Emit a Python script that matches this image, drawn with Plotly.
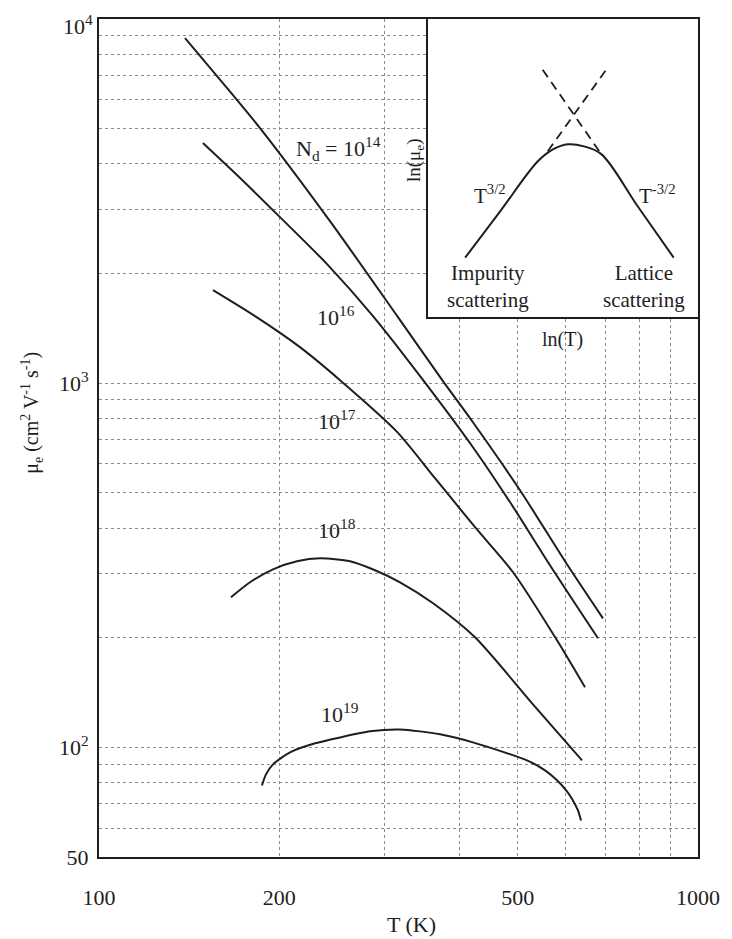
import math
import plotly.graph_objects as go

# ---------------- data ----------------
T_14 = [139.2, 160.5, 185.7, 243.0, 315.6, 375.2, 421.0, 504.5, 604.3, 694.0]
mu_14 = [8867, 6713, 5018, 2786, 1518, 1013, 781, 508.2, 318.2, 226.1]

T_16 = [149.1, 172.0, 200.5, 240.3, 286.7, 343.6, 424.4, 489.3, 566.1, 680.8]
mu_16 = [4563, 3658, 2858, 2123, 1528, 1045, 654.5, 462.2, 316.2, 199.3]

T_17 = [155.0, 182.2, 216.5, 252.6, 314.5, 363.9, 424.4, 491.2, 581.6, 647.7]
mu_17 = [1801, 1528, 1256, 1019, 735.0, 548.3, 402.2, 302.6, 196.8, 146.2]

T_18 = [166.1, 178.7, 195.2, 214.1, 233.8, 262.5, 288.9, 318.1, 361.2, 424.4, 530.3, 640.3]
mu_18 = [258.3, 284.0, 308.3, 324.3, 330.5, 324.3, 306.4, 284.0, 248.7, 200.5, 131.3, 92.1]

T_19 = [187.1, 190.0, 195.2, 208.4, 229.5, 252.6, 283.4, 318.1, 371.0, 421.0, 518.2,
        555.4, 581.6, 604.3, 618.3, 630.4, 637.8]
mu_19 = [78.6, 84.3, 89.8, 96.9, 102.6, 106.5, 110.7, 112.0, 108.6, 103.2, 92.1,
         86.5, 81.2, 75.7, 71.5, 67.1, 63.0]

curve_labels = ["N<sub>d</sub> = 10<sup>14</sup>", "10<sup>16</sup>", "10<sup>17</sup>",
                "10<sup>18</sup>", "10<sup>19</sup>"]
label_T = [250.8, 248.7, 249.6, 249.6, 252.5]
label_mu = [4422, 1528, 791.5, 397.1, 124.0]

x_tickvals = [100, 200, 300, 400, 500, 600, 700, 800, 900, 1000]
x_ticktext = ["100", "200", "", "", "500", "", "", "", "", "1000"]
y_tickvals = [50, 60, 70, 80, 90, 100, 200, 300, 400, 500, 600, 700, 800, 900,
              1000, 2000, 3000, 4000, 5000, 6000, 7000, 8000, 9000, 10000]
# the top label (10^4) is placed as a note so it is not clipped at the page edge
y_ticktext = ["50", "", "", "", "", "10<sup>2</sup>", "", "", "", "", "", "", "", "",
              "10<sup>3</sup>", "", "", "", "", "", "", "", "", ""]
y_top_label = "10<sup>4</sup>"

# inset schematic (arbitrary ln units)
ins_u = [1.38, 2.69, 4.07, 4.63, 5.19, 5.78, 6.42, 7.76, 9.10]
ins_v = [2.00, 3.57, 5.23, 5.63, 5.80, 5.73, 5.47, 3.73, 2.00]
imp_u = [4.44, 6.60]
imp_v = [5.57, 8.30]
lat_u = [4.25, 6.42]
lat_v = [8.30, 5.47]

FONT = "Times New Roman, Liberation Serif, DejaVu Serif, serif"
INK = "#1e1e1e"

fig = go.Figure()

for T, mu in [(T_14, mu_14), (T_16, mu_16), (T_17, mu_17), (T_18, mu_18), (T_19, mu_19)]:
    fig.add_trace(go.Scatter(x=T, y=mu, mode="lines",
                             line=dict(color=INK, width=2, shape="spline", smoothing=0.7),
                             showlegend=False, hoverinfo="skip"))

# inset background + curves
fig.add_trace(go.Scatter(x=[0, 10, 10, 0, 0], y=[0, 0, 10, 10, 0], mode="lines",
                         fill="toself", fillcolor="white", line=dict(width=0, color="white"),
                         xaxis="x2", yaxis="y2", showlegend=False, hoverinfo="skip"))
fig.add_trace(go.Scatter(x=ins_u, y=ins_v, mode="lines",
                         line=dict(color=INK, width=2, shape="spline", smoothing=1.0),
                         xaxis="x2", yaxis="y2", showlegend=False, hoverinfo="skip"))
for u, v in [(imp_u, imp_v), (lat_u, lat_v)]:
    fig.add_trace(go.Scatter(x=u, y=v, mode="lines",
                             line=dict(color=INK, width=1.8, dash="9px,6px"),
                             xaxis="x2", yaxis="y2", showlegend=False, hoverinfo="skip"))

annotations = []
for txt, t, m in zip(curve_labels, label_T, label_mu):
    annotations.append(dict(x=math.log10(t), y=math.log10(m), xref="x", yref="y",
                            text=txt, showarrow=False, xanchor="center", yanchor="middle",
                            font=dict(family=FONT, size=22, color=INK)))

# inset texts
for txt, u, v in [("T<sup>3/2</sup>", 2.31, 4.13), ("T<sup>-3/2</sup>", 8.51, 4.13),
                  ("Impurity<br>scattering", 2.24, 1.02), ("Lattice<br>scattering", 8.0, 1.02)]:
    annotations.append(dict(x=u, y=v, xref="x2", yref="y2", text=txt, showarrow=False,
                            xanchor="center", yanchor="middle",
                            font=dict(family=FONT, size=21, color=INK)))

def paper_note(text, x, y, size, angle=0, xa="center", ya="middle"):
    return dict(x=x, y=y, xref="paper", yref="paper", text=text, textangle=angle,
                showarrow=False, xanchor=xa, yanchor=ya,
                font=dict(family=FONT, size=size, color=INK))

annotations.append(paper_note("ln(μ<sub>e</sub>)", 0.5275, 0.8317, 19, -90))
annotations.append(paper_note("ln(T)", 0.773, 0.617, 20))
# axis titles
annotations.append(paper_note("T (K)", 0.5225, -0.081, 22))
annotations.append(paper_note("μ<sub>e</sub> (cm<sup>2</sup> V<sup>-1</sup> s<sup>-1</sup>)",
                              -0.112, 0.53, 20, -90))
# top y tick label
annotations.append(paper_note(y_top_label, -0.006, 1.0125, 22, xa="right", ya="top"))

grid = dict(showgrid=True, gridcolor="#8a8a8a", gridwidth=1, griddash="dot")

fig.update_layout(
    width=732, height=939,
    margin=dict(l=91, r=42, t=11, b=90),
    paper_bgcolor="white", plot_bgcolor="white",
    showlegend=False,
    font=dict(family=FONT, size=21, color=INK),
    xaxis=dict(type="log", range=[2, 3], tickvals=x_tickvals, ticktext=x_ticktext,
               ticks="", showline=True, linecolor=INK, linewidth=2, mirror=True,
               ticklabelstandoff=20, zeroline=False, automargin=False,
               ticklabeloverflow="allow",
               tickfont=dict(family=FONT, size=22, color=INK), **grid),
    yaxis=dict(type="log", range=[math.log10(50), 4], tickvals=y_tickvals, ticktext=y_ticktext,
               ticks="", showline=True, linecolor=INK, linewidth=2, mirror=True,
               ticklabelstandoff=4, zeroline=False, automargin=False,
               ticklabeloverflow="allow",
               tickfont=dict(family=FONT, size=22, color=INK), **grid),
    xaxis2=dict(domain=[0.549, 1.0], range=[0, 10], anchor="y2", showgrid=False,
                zeroline=False, showticklabels=False, ticks="", showline=True,
                linecolor=INK, linewidth=2, mirror=True, automargin=False),
    yaxis2=dict(domain=[0.644, 1.0], range=[0, 10], anchor="x2", showgrid=False,
                zeroline=False, showticklabels=False, ticks="", showline=True,
                linecolor=INK, linewidth=2, mirror=True, automargin=False),
    annotations=annotations,
)

fig.write_html("out.html")
